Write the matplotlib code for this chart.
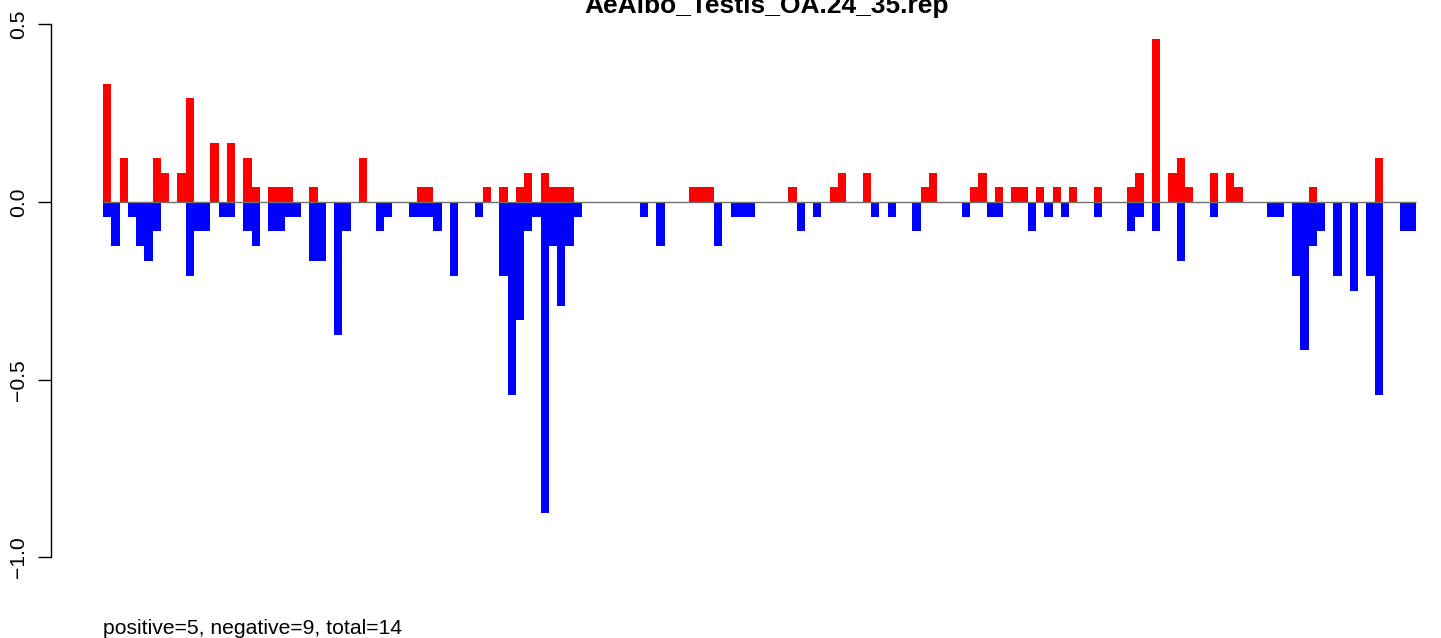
import matplotlib
matplotlib.use("Agg")
import matplotlib.pyplot as plt
import numpy as np

plt.rcParams['font.family'] = ['Liberation Sans', 'DejaVu Sans']

title = "AeAlbo_Testis_OA.24_35.rep"
footer = "positive=5, negative=9, total=14"
yticks = [-1.0, -0.5, 0.0, 0.5]
ytick_labels = ["\u22121.0", "\u22120.5", "0.0", "0.5"]

positive = [
    0.333, 0, 0.125, 0, 0, 0, 0.125, 0.083, 0, 0.083,
    0.292, 0, 0, 0.167, 0, 0.167, 0, 0.125, 0.042, 0,
    0.042, 0.042, 0.042, 0, 0, 0.042, 0, 0, 0, 0,
    0, 0.125, 0, 0, 0, 0, 0, 0, 0.042, 0.042,
    0, 0, 0, 0, 0, 0, 0.042, 0, 0.042, 0,
    0.042, 0.083, 0, 0.083, 0.042, 0.042, 0.042, 0, 0, 0,
    0, 0, 0, 0, 0, 0, 0, 0, 0, 0,
    0, 0.042, 0.042, 0.042, 0, 0, 0, 0, 0, 0,
    0, 0, 0, 0.042, 0, 0, 0, 0, 0.042, 0.083,
    0, 0, 0.083, 0, 0, 0, 0, 0, 0, 0.042,
    0.083, 0, 0, 0, 0, 0.042, 0.083, 0, 0.042, 0,
    0.042, 0.042, 0, 0.042, 0, 0.042, 0, 0.042, 0, 0,
    0.042, 0, 0, 0, 0.042, 0.083, 0, 0.458, 0, 0.083,
    0.125, 0.042, 0, 0, 0.083, 0, 0.083, 0.042, 0, 0,
    0, 0, 0, 0, 0, 0, 0.042, 0, 0, 0,
    0, 0, 0, 0, 0.125, 0, 0, 0, 0,
]

negative = [
    -0.042, -0.125, 0, -0.042, -0.125, -0.167, -0.083, 0, 0, 0,
    -0.208, -0.083, -0.083, 0, -0.042, -0.042, 0, -0.083, -0.125, 0,
    -0.083, -0.083, -0.042, -0.042, 0, -0.167, -0.167, 0, -0.375, -0.083,
    0, 0, 0, -0.083, -0.042, 0, 0, -0.042, -0.042, -0.042,
    -0.083, 0, -0.208, 0, 0, -0.042, 0, 0, -0.208, -0.542,
    -0.333, -0.083, -0.042, -0.875, -0.125, -0.292, -0.125, -0.042, 0, 0,
    0, 0, 0, 0, 0, -0.042, 0, -0.125, 0, 0,
    0, 0, 0, 0, -0.125, 0, -0.042, -0.042, -0.042, 0,
    0, 0, 0, 0, -0.083, 0, -0.042, 0, 0, 0,
    0, 0, 0, -0.042, 0, -0.042, 0, 0, -0.083, 0,
    0, 0, 0, 0, -0.042, 0, 0, -0.042, -0.042, 0,
    0, 0, -0.083, 0, -0.042, 0, -0.042, 0, 0, 0,
    -0.042, 0, 0, 0, -0.083, -0.042, 0, -0.083, 0, 0,
    -0.167, 0, 0, 0, -0.042, 0, 0, 0, 0, 0,
    0, -0.042, -0.042, 0, -0.208, -0.417, -0.125, -0.083, 0, -0.208,
    0, -0.25, 0, -0.208, -0.542, 0, 0, -0.083, -0.083,
]

W, H = 1441, 638
fig = plt.figure(figsize=(W / 100, H / 100), dpi=100)

# layout in pixels
ax_left_px, ax_right_px = 50.7, 1441.0
ax_top_px, ax_bottom_px = 0.0, 580.0
bar0_px, bar_w_px = 103.0, 8.258
zero_px, unit_px = 202.0, 355.4

ax = fig.add_axes([ax_left_px / W, (H - ax_bottom_px) / H,
                   (ax_right_px - ax_left_px) / W, (ax_bottom_px - ax_top_px) / H])

n = len(positive)
x = np.arange(n)
ax.bar(x, positive, width=1.0, align='edge', color='#FF0000', linewidth=0)
ax.bar(x, negative, width=1.0, align='edge', color='#0000FF', linewidth=0)
ax.hlines(0, 0, n, colors='#707070', linewidth=1.0, zorder=3)

xmin = -(bar0_px - ax_left_px) / bar_w_px
xmax = xmin + (ax_right_px - ax_left_px) / bar_w_px
ax.set_xlim(xmin, xmax)
ymax = (zero_px - ax_top_px) / unit_px
ymin = -(ax_bottom_px - zero_px) / unit_px
ax.set_ylim(ymin, ymax)

for s in ['top', 'right', 'bottom']:
    ax.spines[s].set_visible(False)
ax.spines['left'].set_bounds(-1.0, 0.5)
ax.spines['left'].set_linewidth(1.0)
ax.set_xticks([])
ax.set_yticks(yticks)
ax.set_yticklabels(ytick_labels, rotation=90, va='center', fontsize=15.2)
ax.tick_params(axis='y', direction='out', length=9.6, width=1.0, pad=7)
ax.patch.set_alpha(0)

fig.text(767 / W, 1 - 13.5 / H, title, ha='center', va='baseline',
         fontsize=19, fontweight='bold')
fig.text(103 / W, 1 - 634.5 / H, footer, ha='left', va='baseline', fontsize=15.2)

fig.savefig('out.png', dpi=100, facecolor='white')
